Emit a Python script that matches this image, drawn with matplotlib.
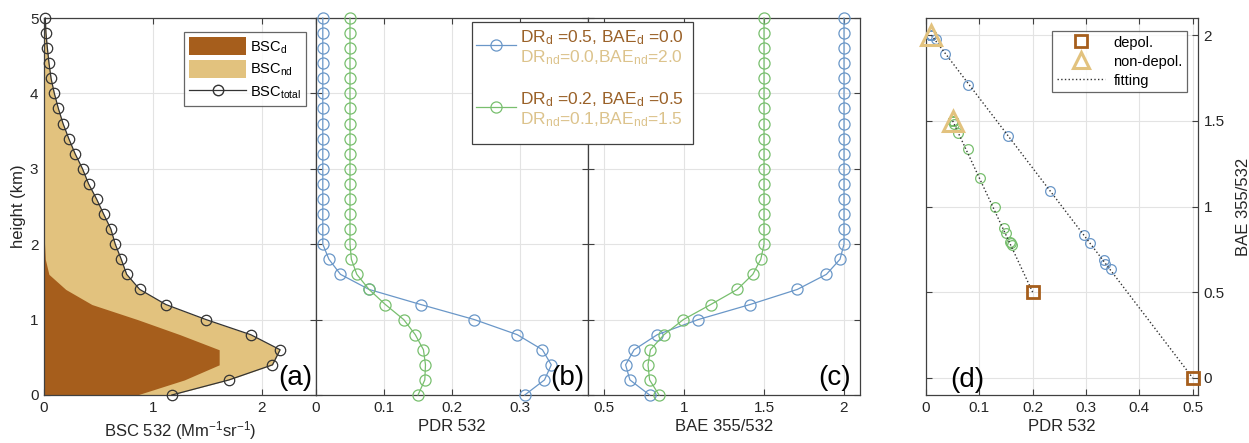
import matplotlib
matplotlib.use("Agg")
import matplotlib.pyplot as plt
from matplotlib.lines import Line2D
from matplotlib.patches import Rectangle, Patch

plt.rcParams['font.family'] = ['Liberation Sans', 'DejaVu Sans']
plt.rcParams['mathtext.default'] = 'regular'
plt.rcParams['font.size'] = 10.5

# ---------------- data ----------------
height = [0.0, 0.2, 0.4, 0.6, 0.8, 1.0, 1.2, 1.4, 1.6, 1.8, 2.0, 2.2, 2.4,
          2.6, 2.8, 3.0, 3.2, 3.4, 3.6, 3.8, 4.0, 4.2, 4.4, 4.6, 4.8, 5.0]
bsc_total = [1.175, 1.70, 2.10, 2.17, 1.90, 1.49, 1.12, 0.88, 0.76, 0.71, 0.655,
             0.615, 0.548, 0.483, 0.41, 0.354, 0.286, 0.228, 0.175, 0.132,
             0.095, 0.065, 0.046, 0.031, 0.018, 0.012]
bsc_d = [0.855, 1.29, 1.61, 1.61, 1.25, 0.86, 0.44, 0.20, 0.045, 0.012, 0.005,
         0.0, 0.0, 0.0, 0.0, 0.0, 0.0, 0.0, 0.0, 0.0, 0.0, 0.0, 0.0, 0.0, 0.0, 0.0]

pdr_1 = [0.307, 0.336, 0.346, 0.333, 0.296, 0.233, 0.154, 0.078, 0.036, 0.019,
         0.01, 0.01, 0.01, 0.01, 0.01, 0.01, 0.01, 0.01, 0.01, 0.01, 0.01,
         0.01, 0.01, 0.01, 0.01, 0.01]
bae_1 = [0.785, 0.662, 0.635, 0.688, 0.833, 1.088, 1.413, 1.708, 1.89, 1.975,
         2.0, 2.0, 2.0, 2.0, 2.0, 2.0, 2.0, 2.0, 2.0, 2.0, 2.0, 2.0, 2.0, 2.0,
         2.0, 2.0]
pdr_2 = [0.150, 0.160, 0.161, 0.158, 0.146, 0.129, 0.102, 0.078, 0.060, 0.052,
         0.05, 0.05, 0.05, 0.05, 0.05, 0.05, 0.05, 0.05, 0.05, 0.05, 0.05,
         0.05, 0.05, 0.05, 0.05, 0.05]
bae_2 = [0.844, 0.785, 0.775, 0.790, 0.875, 0.996, 1.167, 1.333, 1.43, 1.48,
         1.5, 1.5, 1.5, 1.5, 1.5, 1.5, 1.5, 1.5, 1.5, 1.5, 1.5, 1.5, 1.5, 1.5,
         1.5, 1.5]

depol_pdr = [0.5, 0.2]
depol_bae = [0.0, 0.5]
nondepol_pdr = [0.01, 0.05]
nondepol_bae = [2.0, 1.5]

legend_a = ['BSC$_{d}$', 'BSC$_{nd}$', 'BSC$_{total}$']
legend_bc_d = ['DR$_{d}$ =0.5, BAE$_{d}$ =0.0', 'DR$_{d}$ =0.2, BAE$_{d}$ =0.5']
legend_bc_nd = ['DR$_{nd}$=0.0,BAE$_{nd}$=2.0', 'DR$_{nd}$=0.1,BAE$_{nd}$=1.5']
legend_d = ['depol.', 'non-depol.', 'fitting']

# ---------------- style ----------------
C_DARK = '#A65E1C'
C_LIGHT = '#E2C27E'
C_TXT_D = '#9A6128'
C_TXT_ND = '#DCC38C'
C_BLUE = '#6A97C8'
C_GREEN = '#78BF6E'
C_AX = '#404040'
C_GRID = '#E3E3E3'
LABEL_FS = 12
TICK_FS = 11
PANEL_FS = 20

W, H = 1249, 443
fig = plt.figure(figsize=(W / 100, H / 100), dpi=100)

def fx(px):
    return px / W

def fy(py):
    return 1 - py / H

bottom = fy(395)
height_ax = (395 - 18) / H
wax = 272 / W

def style(ax):
    for s in ax.spines.values():
        s.set_color(C_AX)
        s.set_linewidth(0.9)
    ax.tick_params(direction='in', length=4, width=0.8, colors=C_AX,
                   labelcolor='#262626', top=True, right=True,
                   labelsize=TICK_FS, pad=4)
    ax.grid(True, color=C_GRID, linewidth=0.8)
    ax.set_axisbelow(True)

axa = fig.add_axes([fx(44), bottom, wax, height_ax])
axb = fig.add_axes([fx(316), bottom, wax, height_ax])
axc = fig.add_axes([fx(588), bottom, wax, height_ax])
axd = fig.add_axes([fx(926), bottom, wax, height_ax])

# ---------------- panel a ----------------
style(axa)
axa.fill_betweenx(height, 0, bsc_total, color=C_LIGHT, linewidth=0, zorder=1)
axa.fill_betweenx(height, 0, bsc_d, color=C_DARK, linewidth=0, zorder=2)
axa.plot(bsc_total, height, '-o', color='#333333', mfc='none', ms=7.5,
         lw=0.9, mew=0.9, zorder=3, clip_on=False)
axa.set_xlim(0, 2.5)
axa.set_ylim(0, 5)
axa.set_xticks([0, 1, 2])
axa.set_yticks([0, 1, 2, 3, 4, 5])
axa.set_xlabel('BSC 532 (Mm$^{-1}$sr$^{-1}$)', color='#262626',
               fontsize=LABEL_FS, labelpad=3)
axa.set_ylabel('height (km)', color='#262626', fontsize=LABEL_FS, labelpad=3)
h_a = [Patch(facecolor=C_DARK, edgecolor='none'),
       Patch(facecolor=C_LIGHT, edgecolor='none'),
       Line2D([], [], color='#333333', marker='o', mfc='none', ms=7.5, lw=0.9)]
lga = axa.legend(h_a, legend_a, loc='upper right', bbox_to_anchor=(0.965, 0.962),
                 fancybox=False, edgecolor=C_AX, fontsize=10.5, handlelength=3.9,
                 handleheight=1.5, borderpad=0.35, labelspacing=0.33,
                 handletextpad=0.3, borderaxespad=0)
lga.get_frame().set_linewidth(0.9)
axa.text(0.985, 0.01, '(a)', transform=axa.transAxes, ha='right', va='bottom',
         fontsize=PANEL_FS)

# ---------------- panel b ----------------
style(axb)
axb.plot(pdr_1, height, '-o', color=C_BLUE, mfc='none', ms=8, lw=0.9, mew=0.9,
         clip_on=False, zorder=3)
axb.plot(pdr_2, height, '-o', color=C_GREEN, mfc='none', ms=8, lw=0.9, mew=0.9,
         clip_on=False, zorder=3)
axb.set_xlim(0, 0.4)
axb.set_ylim(0, 5)
axb.set_xticks([0, 0.1, 0.2, 0.3])
axb.set_xticklabels(['0', '0.1', '0.2', '0.3'])
axb.set_yticks([0, 1, 2, 3, 4, 5])
axb.set_yticklabels([])
axb.set_xlabel('PDR 532', color='#262626', fontsize=LABEL_FS, labelpad=3)
axb.text(0.985, 0.01, '(b)', transform=axb.transAxes, ha='right', va='bottom',
         fontsize=PANEL_FS)

# ---------------- panel c ----------------
style(axc)
axc.plot(bae_1, height, '-o', color=C_BLUE, mfc='none', ms=8, lw=0.9, mew=0.9,
         clip_on=False, zorder=3)
axc.plot(bae_2, height, '-o', color=C_GREEN, mfc='none', ms=8, lw=0.9, mew=0.9,
         clip_on=False, zorder=3)
axc.set_xlim(0.4, 2.1)
axc.set_ylim(0, 5)
axc.set_xticks([0.5, 1, 1.5, 2])
axc.set_xticklabels(['0.5', '1', '1.5', '2'])
axc.set_yticks([0, 1, 2, 3, 4, 5])
axc.set_yticklabels([])
axc.set_xlabel('BAE 355/532', color='#262626', fontsize=LABEL_FS, labelpad=3)
axc.text(0.965, 0.01, '(c)', transform=axc.transAxes, ha='right', va='bottom',
         fontsize=PANEL_FS)

# ---------------- legend spanning b/c ----------------
box = Rectangle((fx(472), fy(144)), fx(693 - 472), (144 - 22) / H,
                transform=fig.transFigure, facecolor='white', edgecolor=C_AX,
                linewidth=0.9, zorder=10)
fig.add_artist(box)
for i, col in enumerate([C_BLUE, C_GREEN]):
    ly = [45, 107][i]
    fig.add_artist(Line2D([fx(476), fx(516)], [fy(ly), fy(ly)],
                          transform=fig.transFigure, color=col, lw=0.9,
                          zorder=11))
    fig.add_artist(Line2D([fx(496)], [fy(ly)], transform=fig.transFigure,
                          color=col, marker='o', mfc='none', ms=8, mew=0.9,
                          zorder=11))
    fig.text(fx(520), fy(ly - 7), legend_bc_d[i], color=C_TXT_D, fontsize=12.5,
             ha='left', va='center', zorder=12)
    fig.text(fx(520), fy(ly + 13), legend_bc_nd[i], color=C_TXT_ND,
             fontsize=12.5, ha='left', va='center', zorder=12)

# ---------------- panel d ----------------
style(axd)
axd.plot(pdr_1, bae_1, 'o', color=C_BLUE, mfc='none', ms=7, mew=0.9, zorder=3)
axd.plot(pdr_2, bae_2, 'o', color=C_GREEN, mfc='none', ms=7, mew=0.9, zorder=3)
for i in range(2):
    axd.plot([nondepol_pdr[i], depol_pdr[i]], [nondepol_bae[i], depol_bae[i]],
             ':', color='#333333', lw=1.0, zorder=4)
axd.plot(depol_pdr, depol_bae, 's', color=C_DARK, mfc='none', ms=9, mew=2,
         zorder=5, clip_on=False)
axd.plot(nondepol_pdr, nondepol_bae, '^', color=C_LIGHT, mfc='none', ms=14,
         mew=2.2, zorder=5, clip_on=False)
axd.set_xlim(0, 0.51)
axd.set_ylim(-0.1, 2.1)
axd.set_xticks([0, 0.1, 0.2, 0.3, 0.4, 0.5])
axd.set_xticklabels(['0', '0.1', '0.2', '0.3', '0.4', '0.5'])
axd.set_yticks([0, 0.5, 1, 1.5, 2])
axd.set_yticklabels(['0', '0.5', '1', '1.5', '2'])
axd.yaxis.tick_right()
axd.tick_params(left=True, right=True, labelleft=False, labelright=True)
axd.yaxis.set_label_position('right')
axd.set_ylabel('BAE 355/532', color='#262626', fontsize=LABEL_FS, labelpad=8)
axd.set_xlabel('PDR 532', color='#262626', fontsize=LABEL_FS, labelpad=3)
h_d = [Line2D([], [], color=C_DARK, marker='s', mfc='none', ms=9, mew=2, lw=0),
       Line2D([], [], color=C_LIGHT, marker='^', mfc='none', ms=12, mew=2.2, lw=0),
       Line2D([], [], color='#333333', ls=':', lw=1.0)]
lgd = axd.legend(h_d, legend_d, loc='upper right', bbox_to_anchor=(0.96, 0.965),
                 fancybox=False, edgecolor=C_AX, fontsize=10.5, handlelength=3.3,
                 handleheight=1.0, borderpad=0.3, labelspacing=0.3,
                 handletextpad=0.6, borderaxespad=0)
lgd.get_frame().set_linewidth(0.9)
axd.text(0.09, 0.005, '(d)', transform=axd.transAxes, ha='left', va='bottom',
         fontsize=PANEL_FS)

fig.savefig('out.png', dpi=100)
